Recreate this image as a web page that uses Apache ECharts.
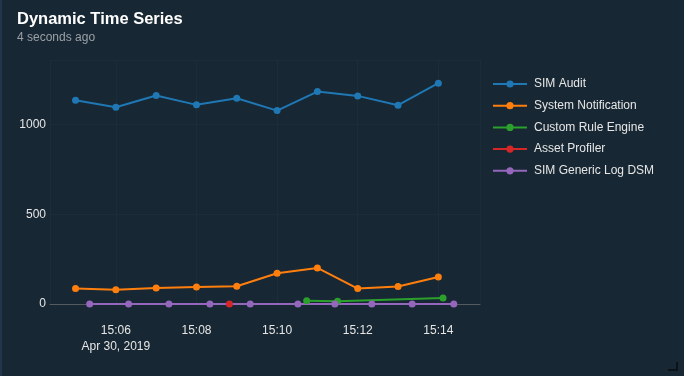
<!DOCTYPE html>
<html><head><meta charset="utf-8">
<script src="https://cdn.jsdelivr.net/npm/echarts@6/dist/echarts.min.js"></script>
<style>html,body{margin:0;padding:0;background:#172733;}#c{width:684px;height:376px;}</style>
</head><body><div id="c"></div>
<script>
const seriesNames = ['SIM Audit','System Notification','Custom Rule Engine','Asset Profiler','SIM Generic Log DSM'];
const colors = ['#1f77b4','#ff7f0e','#2ca02c','#d62728','#9467bd'];
const day = '2019-04-30 ';
const simAuditTimes = ['15:05:00','15:06:00','15:07:00','15:08:00','15:09:00','15:10:00','15:11:00','15:12:00','15:13:00','15:14:00'];
const simAuditValues = [1136,1097,1162,1110,1147,1078,1184,1160,1108,1231];
const sysNotifTimes = ['15:05:00','15:06:00','15:07:00','15:08:00','15:09:00','15:10:00','15:11:00','15:12:00','15:13:00','15:14:00'];
const sysNotifValues = [86,80,89,95,99,171,201,86,97,151];
const customRuleTimes = ['15:10:44','15:11:30','15:14:07'];
const customRuleValues = [18,15,33];
const assetProfilerTimes = ['15:08:49'];
const assetProfilerValues = [0];
const genericLogTimes = ['15:05:21','15:06:19','15:07:19','15:08:20','15:09:20','15:10:31','15:11:26','15:12:21','15:13:21','15:14:23'];
const genericLogValues = [0,0,0,0,0,0,0,0,0,0];
const xMin = '15:04:22', xMax = '15:15:02';
const dateTick = '15:06', dateText = 'Apr 30, 2019';
const yTicks = [0,500,1000];

function pairs(t, v){ return t.map((s,i)=>[day+s, v[i]]); }
const allData = [
  pairs(simAuditTimes, simAuditValues),
  pairs(sysNotifTimes, sysNotifValues),
  pairs(customRuleTimes, customRuleValues),
  pairs(assetProfilerTimes, assetProfilerValues),
  pairs(genericLogTimes, genericLogValues)
];
const FF = 'Liberation Sans, Arial, sans-serif';
const chart = echarts.init(document.getElementById('c'), null, {renderer:'canvas'});
chart.setOption({
  backgroundColor:'#172733',
  animation:false,
  color: colors,
  title:{
    text:'Dynamic Time Series', subtext:'4 seconds ago', left:12, top:6, itemGap:4,
    textStyle:{color:'#ffffff', fontSize:16.5, fontWeight:'bold', fontFamily:FF},
    subtextStyle:{color:'#9aa0a6', fontSize:12, fontFamily:FF}
  },
  legend:{
    orient:'vertical', left:487, top:73, itemWidth:34, itemHeight:9, itemGap:9.7,
    data: seriesNames,
    textStyle:{color:'#e6e6e6', fontSize:12, fontFamily:FF, padding:[0,0,0,2]}
  },
  grid:{left:50, right:204, top:60, bottom:72, containLabel:false},
  xAxis:{
    type:'time', min:day+xMin, max:day+xMax, splitNumber:5,
    axisLine:{show:true, onZero:true, lineStyle:{color:'#555a5e', width:1}},
    axisTick:{show:false},
    splitLine:{show:true, lineStyle:{color:'#1b2d3a', width:1}},
    axisLabel:{
      color:'#e6e6e6', fontSize:12, fontFamily:FF, margin:19, lineHeight:16,
      formatter:function(v){
        const d = new Date(v);
        const s = String(d.getHours()).padStart(2,'0')+':'+String(d.getMinutes()).padStart(2,'0');
        return s===dateTick ? s+'\n'+dateText : s;
      }
    }
  },
  yAxis:{
    type:'value', min:0, max:1360, interval:500,
    axisLine:{show:false}, axisTick:{show:false},
    splitLine:{show:true, lineStyle:{color:'#1b2d3a', width:1}},
    axisLabel:{color:'#e6e6e6', fontSize:12, fontFamily:FF, margin:4,
      showMaxLabel:false, formatter:v=> yTicks.indexOf(v)>=0 ? String(v) : ''}
  },
  series: seriesNames.map((n,i)=>({
    name:n, type:'line', data:allData[i], symbol:'circle', symbolSize:7, showSymbol:true,
    lineStyle:{width:2, color:colors[i]}, itemStyle:{color:colors[i]},
    z: i===3 ? 3 : 2
  })),
  graphic:[
    {type:'rect', left:0, top:0, shape:{width:2, height:376}, style:{fill:'#20364a'}},
    {type:'polyline', shape:{points:[[677,362],[677,370],[668,370]]}, style:{stroke:'#0b1218', lineWidth:2, fill:null}}
  ]
});
</script></body></html>
